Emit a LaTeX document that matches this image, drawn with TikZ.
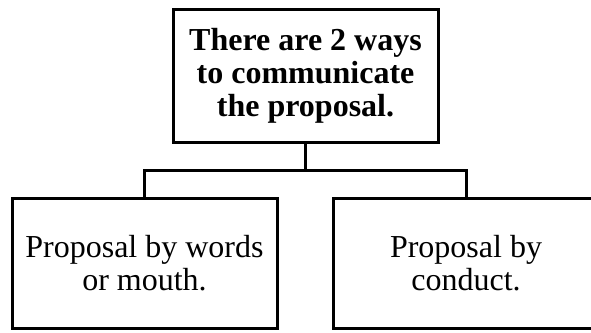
\documentclass[tikz,border=0pt]{standalone}
\usepackage{fontspec}
\setmainfont{Liberation Serif}
\usepackage{tikz}
\usetikzlibrary{calc}

\begin{document}
\begin{tikzpicture}
    [
      x = 1pt, y = -1pt,
      box/.style = {draw, line width = 3pt, rectangle, align = center, inner sep = 0pt,
                    font = \fontsize{32}{33}\selectfont},
      link/.style = {line width = 3pt},
    ]
    \useasboundingbox (0,0) rectangle (591,332);

    \node[box, minimum width = 265pt, minimum height = 133pt,
          font = \fontsize{32}{33}\selectfont\bfseries] (ways) at (305.5,75.5)
      {There are 2 ways\\to communicate\\the proposal.};
    \node[box, minimum width = 265pt, minimum height = 130pt] (words) at (144.5,263)
      {Proposal by words\\or mouth.};
    \node[box, minimum width = 266pt, minimum height = 130pt] (conduct) at (466,263)
      {Proposal by\\conduct.};

    \coordinate (split) at (305.5,170);
    \draw[link] (ways.south) -- (split);
    \draw[link] (words.north) |- (split) -| (conduct.north);
  \end{tikzpicture}
\end{document}
